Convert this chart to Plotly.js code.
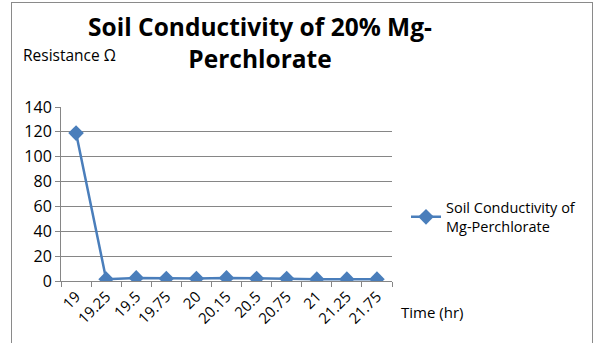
<!DOCTYPE html>
<html><head><meta charset="utf-8">
<script src="https://cdn.plot.ly/plotly-3.0.1.min.js"></script>
<style>
html,body{margin:0;padding:0;background:#fff;}
#wrap{position:relative;width:597px;height:343px;overflow:hidden;}
#frame{position:absolute;left:11px;top:2px;width:582px;height:400px;border:1px solid #8a8a8a;box-sizing:border-box;}
#chart{position:absolute;left:0;top:0;width:597px;height:343px;}
</style></head>
<body><div id="wrap"><div id="frame"></div><div id="chart"></div></div>
<script>
const timeLabels = ["19","19.25","19.5","19.75","20","20.15","20.5","20.75","21","21.25","21.75"];
const resistance = [119, 1.5, 2.5, 2, 2, 2.5, 2, 2, 1.5, 1.5, 1.5];
const seriesName = "Soil Conductivity of<br>Mg-Perchlorate";
const yTicks = [0,20,40,60,80,100,120,140];

const font = "'Open Sans', sans-serif";
const trace = {
  x: timeLabels, y: resistance, type: "scatter", mode: "lines+markers",
  name: seriesName,
  line: {color: "#4a7ebb", width: 2.5},
  marker: {symbol: "diamond", size: 12, color: "#4a7ebb"}
};
const layout = {
  width: 597, height: 343,
  paper_bgcolor: "rgba(0,0,0,0)", plot_bgcolor: "rgba(0,0,0,0)",
  margin: {l: 61, r: 205, t: 107, b: 62, autoexpand: false},
  font: {family: font, size: 13, color: "#000"},
  title: {text: "<b>Soil Conductivity of 20% Mg-<br>Perchlorate</b>", x: 260/597, xanchor: "center",
          yref: "container", y: 1 - 36/343, yanchor: "top",
          font: {family: font, size: 24.5, color: "#000"}},
  xaxis: {type: "category", range: [-0.5, timeLabels.length - 0.5], tickangle: -45, tickson: "boundaries",
          ticks: "outside", ticklen: 5,
          tickcolor: "#868686", showline: true, linecolor: "#868686", linewidth: 1, showgrid: false,
          tickfont: {size: 15}, fixedrange: true, automargin: false},
  yaxis: {range: [0, 140], tickvals: yTicks, ticks: "outside", ticklen: 5, tickcolor: "#868686",
          showline: true, linecolor: "#868686", gridcolor: "#868686", gridwidth: 1, zeroline: false,
          tickfont: {size: 16}, fixedrange: true, automargin: false},
  showlegend: true,
  legend: {xref: "container", yref: "container", x: 406/597, y: 1 - 217/343, xanchor: "left", yanchor: "middle",
           font: {size: 14.5}, itemwidth: 30},
  annotations: [
    {text: "Resistance Ω", xref: "paper", yref: "paper", x: (21-61)/331, y: 1 + (107-55)/174, xanchor: "left", yanchor: "middle", showarrow: false, font: {size: 15.5}},
    {text: "Time (hr)", xref: "paper", yref: "paper", x: (399-61)/331, y: -(312-281)/174, xanchor: "left", yanchor: "middle", showarrow: false, font: {size: 15}}
  ]
};
Plotly.newPlot("chart", [trace], layout, {displayModeBar: false, staticPlot: true});
</script></body></html>
